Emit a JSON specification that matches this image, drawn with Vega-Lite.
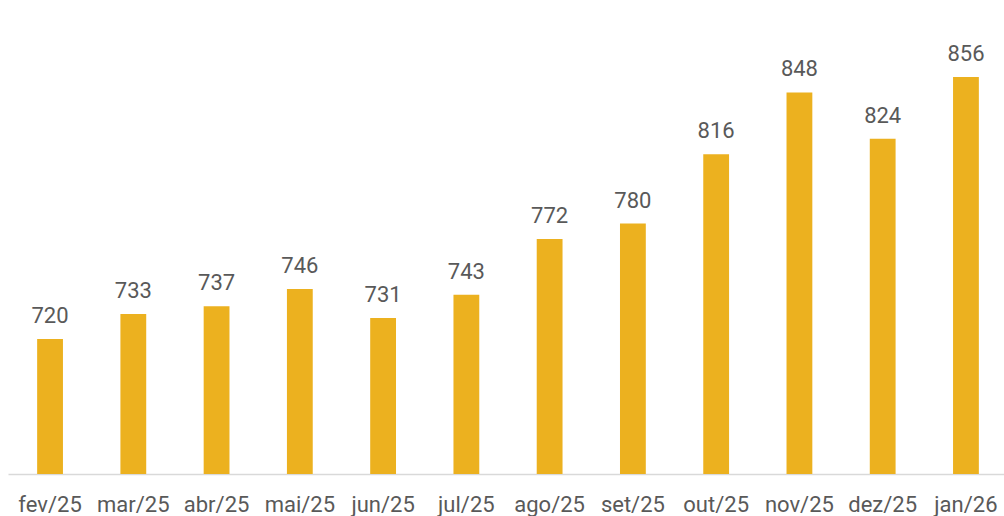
{
  "$schema": "https://vega.github.io/schema/vega-lite/v6.json",
  "autosize": "none",
  "width": 996,
  "height": 474,
  "padding": {"left": 8, "top": 0, "right": 0, "bottom": 42},
  "background": "white",
  "config": {"view": {"stroke": null}, "font": "Roboto"},
  "data": {"values": [
    {"mes": "fev/25", "valor": 720},
    {"mes": "mar/25", "valor": 733},
    {"mes": "abr/25", "valor": 737},
    {"mes": "mai/25", "valor": 746},
    {"mes": "jun/25", "valor": 731},
    {"mes": "jul/25", "valor": 743},
    {"mes": "ago/25", "valor": 772},
    {"mes": "set/25", "valor": 780},
    {"mes": "out/25", "valor": 816},
    {"mes": "nov/25", "valor": 848},
    {"mes": "dez/25", "valor": 824},
    {"mes": "jan/26", "valor": 856}
  ]},
  "encoding": {
    "x": {
      "field": "mes", "type": "nominal", "sort": null,
      "scale": {"range": [0, 1000], "paddingInner": 0.69, "paddingOuter": 0.35},
      "axis": {
        "title": null, "labelAngle": 0, "ticks": false, "labelPadding": 37,
        "labelBaseline": "alphabetic", "labelFont": "Roboto", "labelFontSize": 22,
        "labelColor": "#595959", "domainColor": "#D9D9D9", "domainWidth": 1.5,
        "grid": false
      }
    },
    "y": {
      "field": "valor", "type": "quantitative",
      "scale": {"domain": [650, 896], "zero": false, "nice": false, "clamp": true},
      "axis": null
    }
  },
  "layer": [
    {"mark": {"type": "bar", "color": "#ECB11F", "clip": true}},
    {"mark": {"type": "text", "baseline": "alphabetic", "dy": -16, "font": "Roboto", "fontSize": 22, "color": "#595959"},
     "encoding": {"text": {"field": "valor", "type": "quantitative"}}}
  ]
}
